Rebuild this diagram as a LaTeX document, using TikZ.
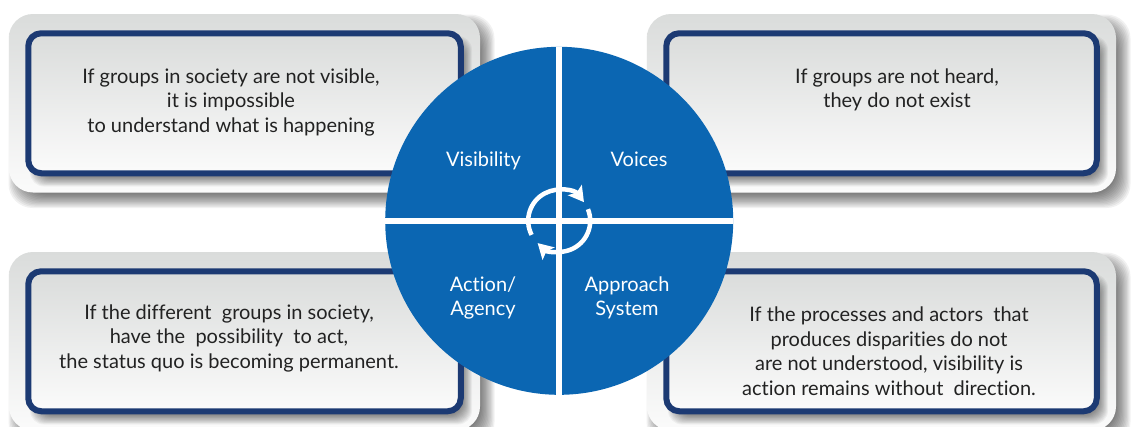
\documentclass[tikz,border=0pt]{standalone}
\usepackage{fontspec}
\setmainfont[Ligatures=NoCommon]{Lato}
\usetikzlibrary{arrows.meta}
\definecolor{diskblue}{HTML}{0B66B2}
\definecolor{framenavy}{HTML}{1C3A73}
\definecolor{topgrey}{HTML}{DADCDB}
\definecolor{botgrey}{HTML}{FBFBFB}
\definecolor{inktext}{HTML}{222222}
\tikzset{
  outerbox/.style={rectangle,rounded corners=24pt,inner sep=0pt,outer sep=0pt,top color=topgrey,bottom color=botgrey,minimum width=#1},
  outerbox/.default=470pt,
  innerbox/.style={rectangle,rounded corners=13pt,inner sep=0pt,outer sep=0pt,draw=framenavy,line width=6pt,top color=topgrey,bottom color=botgrey},
  boxtext/.style={text=inktext,font=\fontsize{20}{24.5}\selectfont,align=center,inner sep=0pt},
  disktext/.style={text=white,font=\fontsize{20}{24.3}\selectfont,align=center,inner sep=0pt},
  divider/.style={draw=white,line width=6.3pt},
  ringarrow/.style={draw=white,line width=4.5pt,-{Stealth[length=15pt,width=17pt,inset=3pt]}}
}
% #1 x0, #2 y0, #3 x1, #4 y1, #5 radius, #6 reach, #7 opacity
\newcommand{\softshadow}[7]{%
  \foreach \k in {0,...,11}{%
    \fill[black,opacity=#7,rounded corners=#5pt]
      ({#1+7+\k*#6/12-#6/2},{#2+8+\k*#6/12-#6/2}) rectangle ({#3+7-\k*#6/12+#6/2},{#4+8-\k*#6/12+#6/2});
  }%
}
\newcommand{\panel}[5]{%
  \softshadow{#2}{#3}{#4}{#5}{24}{15}{0.055}
  \node[outerbox=#4pt-#2pt,minimum height=#5pt-#3pt] (#1outer) at ({(#2+#4)/2},{(#3+#5)/2}) {};
  \softshadow{#2+19}{#3+19}{#4-20}{#5-19}{14}{10}{0.045}
  \node[innerbox,minimum width=#4pt-#2pt-38.5pt,minimum height=#5pt-#3pt-38.5pt] (#1inner) at ({(#2+#4)/2},{(#3+#5)/2}) {};
}
\begin{document}
\begin{tikzpicture}[x=1pt,y=-1pt]
\useasboundingbox (0,0) rectangle (1131,426);
\clip (0,0) rectangle (1131,426);
\panel{tl}{9}{14}{480}{192.5}
\panel{tr}{647}{14}{1116}{192.5}
\panel{bl}{9}{252}{480}{430.5}
\panel{br}{647}{252}{1116}{430.5}
\node[boxtext] (ttl) at (231,102) {If groups in society are not visible,\\it is impossible\\to understand what is happening};
\node[boxtext] (ttr) at (897,90) {If groups are not heard,\\they do not exist};
\node[boxtext] (tbl) at (229,338) {If the different\ \ groups in society,\\have the\ \ possibility\ \ to act,\\the status quo is becoming permanent.};
\node[boxtext] (tbr) at (889,351) {If the processes and actors\ \ that\\produces disparities do not\\are not understood, visibility is\\action remains without\ \ direction.};
\node[circle,fill=diskblue,minimum size=348pt,inner sep=0pt,outer sep=0pt] (disk) at (559.2,220.8) {};
\draw[divider] (disk.north) -- (disk.south);
\draw[divider] (disk.west) -- (disk.east);
\draw[ringarrow] (disk.center) ++(-207:31) arc[start angle=-207,end angle=-37,radius=31];
\draw[ringarrow] (disk.center) ++(-22:31) arc[start angle=-22,end angle=134,radius=31];
\node[disktext,anchor=base] (vis) at (483.5,166.5) {Visibility};
\node[disktext,anchor=base] (voi) at (639,166.5) {Voices};
\node[disktext] (act) at (483,298) {Action/\\Agency};
\node[disktext] (app) at (627,298) {Approach\\System};
\end{tikzpicture}
\end{document}
